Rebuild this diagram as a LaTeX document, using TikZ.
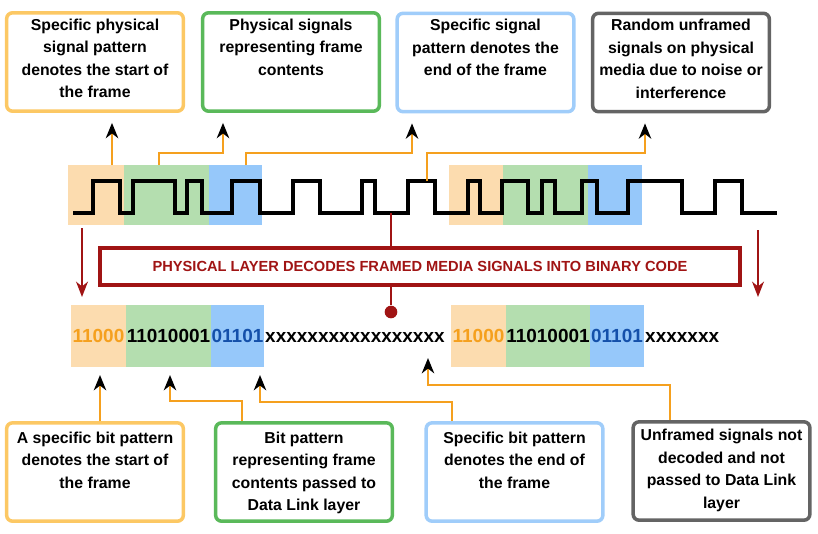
\documentclass[tikz,border=0pt]{standalone}
\usepackage{fontspec}
\setmainfont{Liberation Sans}
\usepackage{xcolor}
\usetikzlibrary{arrows.meta}

\definecolor{boxorange}{RGB}{252,200,100}
\definecolor{boxgreen}{RGB}{90,185,90}
\definecolor{boxblue}{RGB}{160,205,250}
\definecolor{boxgray}{RGB}{100,100,100}
\definecolor{bandorange}{RGB}{252,220,175}
\definecolor{bandgreen}{RGB}{180,222,175}
\definecolor{bandblue}{RGB}{150,200,250}
\definecolor{linkorange}{RGB}{245,160,30}
\definecolor{bitblue}{RGB}{20,80,170}
\definecolor{darkred}{RGB}{160,20,20}

\newcommand{\notetext}[2][2.6cm]{\parbox[c][#1][t]{5cm}{\centering #2}}

\tikzset{
  note/.style={draw=#1, line width=3pt, rounded corners=5pt, fill=white,
    minimum width=5.3cm, minimum height=2.95cm, inner sep=0pt,
    font=\bfseries\fontsize{13.5}{19.2}\selectfont},
  band/.style={fill=#1, draw=none, minimum height=1.8cm, inner sep=0pt},
  bits/.style={inner sep=0pt, minimum height=1.86cm, text height=11.6pt,
    text depth=0pt, font=\bfseries\fontsize{16.2}{18}\selectfont},
  wave/.style={line width=2.8pt, black},
  link/.style={draw=linkorange, line width=2.5pt,
    -{Stealth[black, length=13pt, width=10.5pt, inset=4pt]}},
  redline/.style={draw=darkred, line width=2.5pt},
  redarrow/.style={redline, -{Stealth[darkred, length=13pt, width=10pt, inset=4pt]}},
}

\begin{document}
\begin{tikzpicture}[x=0.03cm, y=-0.03cm]
    \useasboundingbox (0,0) rectangle (818,533);

    % top notes
    \node[note=boxorange] (t1) at (95,62) {\notetext{Specific physical\\ signal pattern\\ denotes the start of\\ the frame}};
    \node[note=boxgreen] (t2) at (291,62) {\notetext{Physical signals\\ representing frame\\ contents}};
    \node[note=boxblue] (t3) at (485.5,62.5) {\notetext{Specific signal\\ pattern denotes the\\ end of the frame}};
    \node[note=boxgray] (t4) at (681,62.5) {\notetext{Random unframed\\ signals on physical\\ media due to noise or\\ interference}};

    % signal bands
    \node[band=bandorange, minimum width=1.68cm] (s1) at (96,195) {};
    \node[band=bandgreen, minimum width=2.55cm] (s2) at (166.5,195) {};
    \node[band=bandblue, minimum width=1.59cm] (s3) at (235.5,195) {};
    \node[band=bandorange, minimum width=1.62cm] (s4) at (476,195) {};
    \node[band=bandgreen, minimum width=2.55cm] (s5) at (545.5,195) {};
    \node[band=bandblue, minimum width=1.62cm] (s6) at (615,195) {};

    \draw[wave] (73,213) -| (93,181) -| (120,213) -| (133,181) -| (175,213)
      -| (187,181) -| (202,213) -| (232,181) -| (260,213) -| (293,181)
      -| (320,213) -| (362,181) -| (375,213) -| (408,181) -| (435,213)
      -| (468,181) -| (480,213) -| (502,181) -| (528,213) -| (542,181)
      -| (555,213) -| (582,181) -| (597,213) -| (628,181) -| (682,213)
      -| (715,181) -| (742,213) -- (777,213);

    % links up to the notes
    \coordinate (f1) at (112,165);
    \coordinate (f2) at (159,165);
    \coordinate (f3) at (246,165);
    \coordinate (f4) at (427,181);
    \coordinate (k2) at (223,153);
    \coordinate (k3) at (412,153);
    \coordinate (k4) at (645,153);
    \draw[link, shorten >=8.5pt] (f1) -- (f1 |- t1.south);
    \draw[link, shorten >=8.5pt] (f2) |- (k2) -- (k2 |- t2.south);
    \draw[link, shorten >=8.5pt] (f3) |- (k3) -- (k3 |- t3.south);
    \draw[link, shorten >=8.5pt] (f4) |- (k4) -- (k4 |- t4.south);

    % decoding
    \node[draw=darkred, line width=3.2pt, minimum width=19.2cm, minimum height=1.1cm,
      text=darkred, font=\bfseries\fontsize{12.5}{15}\selectfont] (dec) at (420,266.5)
      {PHYSICAL LAYER DECODES FRAMED MEDIA SIGNALS INTO BINARY CODE};
    \coordinate (w) at (391,213);
    \node[circle, fill=darkred, inner sep=0pt, minimum size=0.38cm] (dot) at (391,312) {};
    \draw[redline] (w) -- (w |- dec.north);
    \draw[redline] (dot |- dec.south) -- (dot);
    \coordinate (r1) at (82,228);
    \coordinate (r2) at (758,230);
    \draw[redarrow] (r1) -- ++(0,69);
    \draw[redarrow] (r2) -- ++(0,67);

    % bit row
    \node[bits, fill=bandorange, text=linkorange, minimum width=1.65cm] (b1) at (98.5,336) {11000};
    \node[bits, fill=bandgreen, minimum width=2.55cm] (b2) at (168.5,336) {11010001};
    \node[bits, fill=bandblue, text=bitblue, minimum width=1.59cm] (b3) at (237.5,336) {01101};
    \node[bits, anchor=west] (x1) at (265,336) {xxxxxxxxxxxxxxxxx};
    \node[bits, fill=bandorange, text=linkorange, minimum width=1.65cm] (b4) at (478.5,336) {11000};
    \node[bits, fill=bandgreen, minimum width=2.52cm] (b5) at (548,336) {11010001};
    \node[bits, fill=bandblue, text=bitblue, minimum width=1.62cm] (b6) at (617,336) {01101};
    \node[bits, anchor=west] (x2) at (645,336) {xxxxxxx};

    % bottom notes
    \node[note=boxorange] (bA) at (95,472) {\notetext[2.4cm]{A specific bit pattern\\ denotes the start of\\ the frame}};
    \node[note=boxgreen] (bB) at (304,472) {\notetext[2.4cm]{Bit pattern\\ representing frame\\ contents passed to\\ Data Link layer}};
    \node[note=boxblue] (bC) at (514.5,472) {\notetext[2.4cm]{Specific bit pattern\\ denotes the end of\\ the frame}};
    \node[note=boxgray] (bD) at (721.5,471) {\notetext[2.5cm]{Unframed signals not\\ decoded and not\\ passed to Data Link\\ layer}};

    % links up to the bits
    \coordinate (g1) at (100,375);
    \coordinate (g2) at (170,375);
    \coordinate (g3) at (260,375);
    \coordinate (g4) at (428,358);
    \coordinate (h2) at (242,401);
    \coordinate (h3) at (452,402);
    \coordinate (h4) at (670,385);
    \draw[link] (g1 |- bA.north) -- (g1);
    \draw[link] (h2 |- bB.north) -- (h2) -| (g2);
    \draw[link] (h3 |- bC.north) -- (h3) -| (g3);
    \draw[link] (h4 |- bD.north) -- (h4) -| (g4);
\end{tikzpicture}
\end{document}
